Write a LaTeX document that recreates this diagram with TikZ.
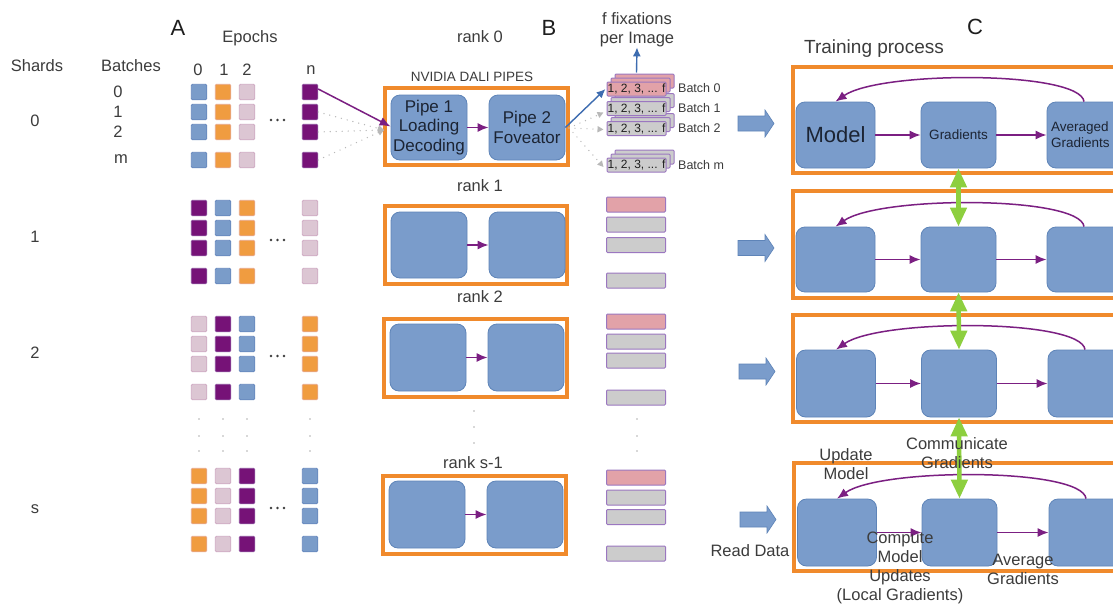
\documentclass[tikz,border=0pt]{standalone}
\usepackage{fontspec}
\setmainfont{Liberation Sans}
\usetikzlibrary{arrows.meta}
\definecolor{sqblue}{HTML}{7A9CC9}
\definecolor{sqblueD}{HTML}{6688BE}
\definecolor{sqorange}{HTML}{F09C40}
\definecolor{sqorangeD}{HTML}{E8A88A}
\definecolor{sqpink}{HTML}{DCC6D3}
\definecolor{sqpinkD}{HTML}{CFAAC3}
\definecolor{sqpurple}{HTML}{761277}
\definecolor{sqpurpleD}{HTML}{8A4A9A}
\definecolor{frameor}{HTML}{F08A2C}
\definecolor{blk}{HTML}{7A9CCB}
\definecolor{blkD}{HTML}{5E84B8}
\definecolor{parrc}{HTML}{7B1F82}
\definecolor{bluearr}{HTML}{3D6CB0}
\definecolor{grn}{HTML}{8DCF3F}
\definecolor{txt}{HTML}{3C3C3C}
\definecolor{txtdark}{HTML}{1E1E1E}
\definecolor{blktxt}{HTML}{1C2433}
\definecolor{bpink}{HTML}{E2A2A8}
\definecolor{bgrey}{HTML}{CCCCCC}
\definecolor{bedge}{HTML}{9B77C0}
\definecolor{dotgrey}{HTML}{B8B8B8}
\newcommand\myfatarrow[2]{%
  \filldraw[fill=blk, draw=blkD, line width=0.6pt]
    (#1,#2-7.5) -- ++(27,0) -- ++(0,-6) -- ++(9,13.5) -- ++(-9,13.5)
    -- ++(0,-6) -- ++(-27,0) -- cycle;}
\begin{document}
\begin{tikzpicture}[x=1pt,y=-1pt,
  sq/.style={minimum size=15.5pt, inner sep=0pt, rounded corners=1.2pt, line width=0.9pt},
  sqB/.style={sq, fill=sqblue, draw=sqblueD},
  sqO/.style={sq, fill=sqorange, draw=sqorangeD},
  sqP/.style={sq, fill=sqpink, draw=sqpinkD},
  sqV/.style={sq, fill=sqpurple, draw=sqpurpleD},
  lbl/.style={text=txt, font=\fontsize{16.5}{19}\selectfont, inner sep=0pt, align=center},
  big/.style={text=txtdark, font=\fontsize{22}{26}\selectfont, inner sep=0pt},
  small/.style={text=txt, font=\fontsize{12.5}{14}\selectfont, inner sep=0pt},
  frame/.style={draw=frameor, line width=3.2pt},
  blkbox/.style={draw=blkD, fill=blk, rounded corners=9pt, line width=0.8pt, inner sep=0pt, text=blktxt, align=center},
  pipe/.style={blkbox, minimum width=76pt, minimum height=65pt, font=\fontsize{17}{19.5}\selectfont},
  cbm/.style={blkbox, minimum width=79pt},
  cbg/.style={blkbox, minimum width=75pt},
  cba/.style={blkbox, minimum width=84pt},
  parr/.style={draw=parrc, line width=1.5pt, -{Latex[length=11pt,width=9pt]}},
  barr/.style={draw=bluearr, line width=1.4pt, -{Latex[length=9pt,width=8pt]}},
  garr/.style={draw=grn, line width=4.5pt, {Triangle[length=19pt,width=16pt]}-{Triangle[length=19pt,width=16pt]}},
  gdot/.style={draw=dotgrey, line width=1.4pt, line cap=round, dash pattern=on 0pt off 6pt,
     -{Triangle[length=6pt,width=6pt]}},
  bat/.style={minimum width=59pt, minimum height=14pt, inner sep=0pt, draw=bedge, line width=1pt,
     rounded corners=1pt, font=\fontsize{12}{13}\selectfont, text=txtdark},
  batP/.style={bat, fill=bpink},
  batG/.style={bat, fill=bgrey},
  bsingleP/.style={bat, minimum height=15pt, fill=bpink},
  bsingleG/.style={bat, minimum height=15pt, fill=bgrey},
  vdot/.style={fill=gray!60}
]
\useasboundingbox (0,0) rectangle (1113,605);
\clip (0,0) rectangle (1113,605);
\fill[white] (0,0) rectangle (1113,605);

% ---------------- A ----------------
\node[big] (labA) at (178,28) {A};
\node[lbl] (epochs) at (250,38) {Epochs};
\node[lbl] (shards) at (37,66) {Shards};
\node[lbl] (batches) at (131,66) {Batches};
\node[lbl] (e0) at (198,70) {0};
\node[lbl] (e1) at (224,70) {1};
\node[lbl] (e2) at (247,70) {2};
\node[lbl] (en) at (311,70) {n};
\node[lbl] (bl0) at (118,92) {0};
\node[lbl] (bl1) at (118,112) {1};
\node[lbl] (bl2) at (118,132) {2};
\node[lbl] (blm) at (121,159) {m};
\node[lbl] (sh0) at (35,121) {0};
\node[lbl] (sh1) at (35,237) {1};
\node[lbl] (sh2) at (35,353) {2};
\node[lbl] (shs) at (35,509) {s};

\foreach \x/\c/\k in {199/sqB/a,223/sqO/b,247/sqP/c,310/sqV/n}
  \foreach \y/\r in {92/0,112/1,132/2,160/m}
    \node[\c] (s0\k\r) at (\x,\y) {};
\foreach \x/\c/\k in {199/sqV/a,223/sqB/b,247/sqO/c,310/sqP/n}
  \foreach \y/\r in {208/0,228/1,248/2,276/m}
    \node[\c] (s1\k\r) at (\x,\y) {};
\foreach \x/\c/\k in {199/sqP/a,223/sqV/b,247/sqB/c,310/sqO/n}
  \foreach \y/\r in {324/0,344/1,364/2,392/m}
    \node[\c] (s2\k\r) at (\x,\y) {};
\foreach \x/\c/\k in {199/sqO/a,223/sqP/b,247/sqV/c,310/sqB/n}
  \foreach \y/\r in {476/0,496/1,516/2,544/m}
    \node[\c] (ss\k\r) at (\x,\y) {};

\foreach \y in {120,240,356,508}
  \foreach \x in {271,277.5,284}
    \fill[txt] (\x,\y) circle (1.3pt);
\foreach \x in {199,223,247,310}
  \foreach \y in {419,436,451}
    \fill[vdot] (\x,\y) circle (0.9pt);

% ---------------- B ----------------
\node[big] (labB) at (549,28) {B};
\node[lbl] (rk0) at (480,37) {rank 0};
\node[text=txt, font=\fontsize{13.5}{16}\selectfont, inner sep=0pt] (dali) at (472,77) {NVIDIA DALI PIPES};
\draw[frame] (385,88) rectangle (568,165);
\node[pipe] (p01) at (429,127.5) {Pipe 1\\Loading\\Decoding};
\node[pipe] (p02) at (527,127.5) {Pipe 2\\Foveator};
\draw[parr] (p01.east) -- (p02.west);

\coordinate (gin) at (384,130);
\draw[gdot] (s0n1.east) -- (gin);
\draw[gdot] (s0n2.east) -- (gin);
\draw[gdot] (s0nm.east) -- (gin);
\draw[parr] ([yshift=3pt]s0n0.east) -- ([yshift=1pt]p01.west);

\node[lbl] (rk1) at (480,186) {rank 1};
\draw[frame] (385,206) rectangle (567,284);
\node[pipe, minimum height=66pt] (p11) at (429,245) {};
\node[pipe, minimum height=66pt] (p12) at (527,245) {};
\draw[parr] (p11.east) -- (p12.west);

\node[lbl] (rk2) at (480,297) {rank 2};
\draw[frame] (384,319) rectangle (567,397);
\node[pipe, minimum height=67pt] (p21) at (428,357.5) {};
\node[pipe, minimum height=67pt] (p22) at (526,357.5) {};
\draw[parr] (p21.east) -- (p22.west);

\foreach \y in {411,427,443}
  \fill[vdot] (474,\y) circle (0.9pt);

\node[lbl] (rks) at (473,463) {rank s-1};
\draw[frame] (383,476) rectangle (566,554);
\node[pipe, minimum height=67pt] (ps1) at (427,514.5) {};
\node[pipe, minimum height=67pt] (ps2) at (525,514.5) {};
\draw[parr] (ps1.east) -- (ps2.west);

% batch stacks (rank 0)
\node[batG] (bmc) at (644.5,157) {};
\node[batG] (bmb) at (640.5,161) {};
\node[batG] (bfm) at (636.5,165) {1, 2, 3, ... f};
\node[batG] (b2c) at (644.5,120.5) {};
\node[batG] (b2b) at (640.5,124.5) {};
\node[batG] (bf2) at (636.5,128.5) {1, 2, 3, ... f};
\node[batG] (b1c) at (644.5,100.5) {};
\node[batG] (b1b) at (640.5,104.5) {};
\node[batG] (bf1) at (636.5,108.5) {1, 2, 3, ... f};
\node[batP] (b0c) at (644.5,81) {};
\node[batP] (b0b) at (640.5,85) {};
\node[batP] (bf0) at (636.5,89) {1, 2, 3, ... f};

\node[small, anchor=west] (lb0) at (678,88) {Batch 0};
\node[small, anchor=west] (lb1) at (678,108) {Batch 1};
\node[small, anchor=west] (lb2) at (678,128) {Batch 2};
\node[small, anchor=west] (lbm) at (678,165) {Batch m};

\node[lbl, text=txt] (ffix) at (637,30) {f fixations\\per Image};
\draw[barr] ([yshift=9pt]bf0.north) -- (ffix.south);
\coordinate (gout) at (569,128);
\draw[gdot] (gout) -- ([xshift=-3pt,yshift=-4pt]bf1.west);
\draw[gdot] (gout) -- ([xshift=-3pt,yshift=-1pt]bf2.west);
\draw[gdot] (gout) -- ([xshift=-3pt,yshift=-2pt]bfm.west);
\draw[barr] (p02.east) -- ([xshift=-1pt]bf0.west);

% single batch rects for other ranks
\foreach \r/\ya/\yb/\yc/\yd in {1/204.5/224.5/245/280.5, 2/321.5/341.5/360.5/397.5, s/477.5/497.5/517/553.5} {
  \node[bsingleP] (r\r b0) at (636,\ya) {};
  \node[bsingleG] (r\r b1) at (636,\yb) {};
  \node[bsingleG] (r\r b2) at (636,\yc) {};
  \node[bsingleG] (r\r bm) at (636,\yd) {};
}
\foreach \y in {419,436,451}
  \fill[vdot] (637,\y) circle (0.9pt);

% ---------------- C ----------------
\node[big] (labC) at (975,27) {C};
\node[text=txt, font=\fontsize{19}{22}\selectfont, inner sep=0pt] (train) at (874,49) {Training process};

\draw[frame] (793,67) rectangle (1140,173);
\draw[frame] (793,191) rectangle (1140,298);
\draw[frame] (793,315) rectangle (1140,422);
\draw[frame] (794,463) rectangle (1140,571);

\node[cbm, minimum height=66pt, font=\fontsize{22}{26}\selectfont] (m0) at (835.5,135) {Model};
\node[cbg, minimum height=66pt, font=\fontsize{13.5}{16}\selectfont] (g0) at (958.5,135) {Gradients};
\node[cba, minimum height=66pt] (a0) at (1089,135) {};
\node[anchor=west, align=left, inner sep=0pt, text=blktxt, font=\fontsize{13.5}{16}\selectfont] (a0t) at (1051,135) {Averaged\\Gradients};

\node[cbm, minimum height=65pt] (m1) at (835.5,259.5) {};
\node[cbg, minimum height=65pt] (g1) at (958.5,259.5) {};
\node[cba, minimum height=65pt] (a1) at (1089,259.5) {};

\node[cbm, minimum height=67pt] (m2) at (836,383.5) {};
\node[cbg, minimum height=67pt] (g2) at (959,383.5) {};
\node[cba, minimum height=67pt] (a2) at (1090,383.5) {};

\node[cbm, minimum height=67pt] (m3) at (837,532.5) {};
\node[cbg, minimum height=67pt] (g3) at (959.5,532.5) {};
\node[cba, minimum height=67pt] (a3) at (1091,532.5) {};

\foreach \i in {0,1,2,3} {
  \draw[parr] (m\i.east) -- (g\i.west);
  \draw[parr] (g\i.east) -- (a\i.west);
  \draw[parr] ([xshift=-5pt]a\i.north) .. controls +(-4,-31) and +(44,-31) .. (m\i.north);
}
\draw[garr] (g0.south) -- (g1.north);
\draw[garr] (g1.south) -- (g2.north);
\draw[garr] (g2.south) -- (g3.north);

\myfatarrow{738}{123.5}
\myfatarrow{738}{248}
\myfatarrow{739}{371.5}
\myfatarrow{740}{519.5}

\node[lbl] (upd) at (846,464) {Update\\Model};
\node[lbl] (comm) at (957,453) {Communicate\\Gradients};
\node[lbl] (read) at (750,551) {Read Data};
\node[lbl] (comp) at (900,568) {Compute\\Model\\Updates\\(Local Gradients)};
\node[lbl] (avgl) at (1023,569) {Average\\Gradients};
\end{tikzpicture}
\end{document}
